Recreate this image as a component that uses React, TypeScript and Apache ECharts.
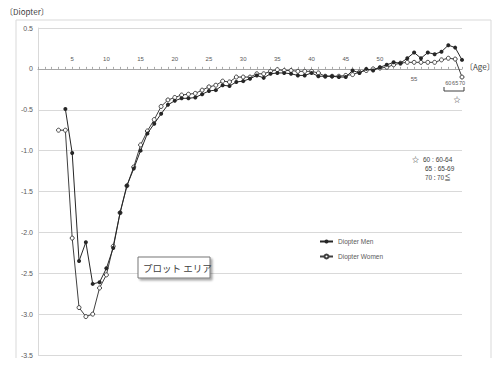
import React, { useEffect, useRef } from 'react';
import * as echarts from 'echarts';

const ages = [
  '0', '1', '2', '3', '4', '5', '6', '7', '8', '9',
  '10', '11', '12', '13', '14', '15', '16', '17', '18', '19',
  '20', '21', '22', '23', '24', '25', '26', '27', '28', '29',
  '30', '31', '32', '33', '34', '35', '36', '37', '38', '39',
  '40', '41', '42', '43', '44', '45', '46', '47', '48', '49',
  '50', '51', '52', '53', '54', '55', '56', '57', '58', '59',
  '60', '65', '70',
];

const menDiopter = [
  null, null, null, null, -0.49, -1.03, -2.35, -2.12, -2.63, -2.61,
  -2.44, -2.19, -1.76, -1.43, -1.22, -1.0, -0.79, -0.67, -0.55, -0.44,
  -0.39, -0.36, -0.36, -0.35, -0.31, -0.27, -0.26, -0.2, -0.21, -0.16,
  -0.15, -0.12, -0.08, -0.11, -0.06, -0.05, -0.05, -0.06, -0.08, -0.08,
  -0.05, -0.09, -0.09, -0.09, -0.1, -0.1, -0.02, -0.05, 0.0, -0.02,
  0.02, 0.05, 0.08, 0.07, 0.13, 0.2, 0.13, 0.2, 0.18, 0.21,
  0.29, 0.26, 0.11,
];

const womenDiopter = [
  null, null, null, -0.75, -0.75, -2.07, -2.92, -3.03, -3.0, -2.68,
  -2.52, -2.17, -1.76, -1.43, -1.2, -0.93, -0.76, -0.62, -0.46, -0.38,
  -0.35, -0.32, -0.31, -0.3, -0.26, -0.22, -0.2, -0.15, -0.16, -0.1,
  -0.1, -0.1, -0.06, -0.06, -0.03, -0.01, -0.02, -0.02, -0.03, -0.03,
  -0.03, -0.05, -0.09, -0.09, -0.09, -0.08, -0.07, -0.04, -0.02, 0.0,
  0.01, 0.02, 0.05, 0.07, 0.08, 0.08, 0.08, 0.08, 0.08, 0.11,
  0.13, 0.12, -0.1,
];

const yMin = -3.5;
const yMax = 0.5;
const yStep = 0.5;
const topAgeLabels = ['5', '10', '15', '20', '25', '30', '35', '40', '45', '50'];
const bottomAgeLabels = ['55', '60', '65', '70'];
const legendNames = ['Diopter Men', 'Diopter Women'];
const noteLines = ['60 : 60-64', '65 : 65-69', '70 : 70≦'];

const W = 500;
const H = 369;
const GRID_TOP = 28;
const GRID_BOTTOM = 14;

export default function App() {
  const ref = useRef<HTMLDivElement>(null);

  useEffect(() => {
    const chart = echarts.init(ref.current as HTMLDivElement, null, { renderer: 'svg' });
    const font = '"Liberation Sans", Arial, sans-serif';
    const cjk = '"Noto Sans CJK JP", "Noto Sans", sans-serif';
    const labelColor = '#595959';
    const gridH = H - GRID_TOP - GRID_BOTTOM;
    // move the x axis from the bottom edge up to the zero line of the value axis
    const zeroOffset = -gridH * (0 - yMin) / (yMax - yMin);

    const option: any = {
      animation: false,
      backgroundColor: '#ffffff',
      grid: { left: 38, right: 38, top: GRID_TOP, bottom: GRID_BOTTOM, containLabel: false, outerBoundsMode: 'none' },
      legend: {
        orient: 'vertical',
        left: 314,
        top: 233,
        itemWidth: 13,
        itemHeight: 5,
        itemGap: 8,
        data: legendNames,
        textStyle: { fontSize: 6.5, color: labelColor, fontFamily: font },
      },
      xAxis: [
        {
          type: 'category',
          data: ages,
          boundaryGap: false,
          position: 'bottom',
          offset: zeroOffset,
          axisLine: { onZero: false, lineStyle: { color: '#a6a6a6', width: 1 } },
          axisTick: { show: true, interval: 0, inside: true, length: 2, lineStyle: { color: '#a6a6a6' } },
          axisLabel: {
            inside: true,
            interval: (_i: number, v: string) => topAgeLabels.includes(v),
            margin: 6.5,
            fontSize: 6,
            color: labelColor,
            fontFamily: font,
          },
          splitLine: { show: false },
        },
        {
          type: 'category',
          data: ages,
          boundaryGap: false,
          position: 'bottom',
          offset: zeroOffset,
          axisLine: { show: false, onZero: false },
          axisTick: { show: false },
          axisLabel: {
            interval: (_i: number, v: string) => bottomAgeLabels.includes(v),
            margin: 6,
            formatter: (v: string) => (v === '55' ? `{a|${v}}` : `{b|${v}}`),
            rich: {
              a: { fontSize: 6, lineHeight: 8, color: labelColor, fontFamily: font },
              b: { fontSize: 5.5, lineHeight: 17, color: labelColor, fontFamily: font },
            },
          },
          splitLine: { show: false },
        },
      ],
      yAxis: {
        type: 'value',
        min: yMin,
        max: yMax,
        interval: yStep,
        axisLine: { show: true, onZero: false, lineStyle: { color: '#d9d9d9' } },
        axisTick: { show: false },
        axisLabel: {
          formatter: (v: number) => (v === 0 ? '0' : v.toFixed(1)),
          fontSize: 7,
          color: labelColor,
          fontFamily: font,
          margin: 5,
        },
        splitLine: { lineStyle: { color: '#d9d9d9', width: 1 } },
      },
      series: [
        {
          name: legendNames[0],
          type: 'line',
          data: menDiopter,
          symbol: 'circle',
          symbolSize: 4,
          showAllSymbol: true,
          lineStyle: { color: '#262626', width: 1 },
          itemStyle: { color: '#262626' },
          z: 3,
        },
        {
          name: legendNames[1],
          type: 'line',
          data: womenDiopter,
          symbol: 'circle',
          symbolSize: 4,
          showAllSymbol: true,
          lineStyle: { color: '#404040', width: 1 },
          itemStyle: { color: '#ffffff', borderColor: '#404040', borderWidth: 1 },
          z: 2,
        },
      ],
      graphic: [
        {
          type: 'polyline',
          silent: true,
          z: -10,
          shape: { points: [[16, 358], [16, 20], [491, 20], [491, 358]] },
          style: { stroke: '#d9d9d9', fill: 'none', lineWidth: 1 },
        },
        {
          type: 'text',
          x: 5,
          y: 11,
          style: { text: '〔Diopter〕', fontSize: 8, fontFamily: cjk, fill: '#404040', align: 'left', verticalAlign: 'middle' },
        },
        {
          type: 'text',
          x: 465,
          y: 66,
          style: { text: '〔Age〕', fontSize: 8, fontFamily: cjk, fill: '#404040', align: 'left', verticalAlign: 'middle' },
        },
        {
          type: 'text',
          x: 412,
          y: 159,
          style: { text: '☆', fontSize: 7, fontFamily: cjk, fill: '#333333', align: 'left', verticalAlign: 'middle' },
        },
        {
          type: 'text',
          x: 423,
          y: 159,
          style: { text: noteLines[0], fontSize: 6.5, fontFamily: font, fill: '#404040', align: 'left', verticalAlign: 'middle' },
        },
        {
          type: 'text',
          x: 425,
          y: 168,
          style: { text: noteLines[1], fontSize: 6.5, fontFamily: font, fill: '#404040', align: 'left', verticalAlign: 'middle' },
        },
        {
          type: 'text',
          x: 425,
          y: 177,
          style: { text: noteLines[2], fontSize: 6.5, fontFamily: cjk, fill: '#404040', align: 'left', verticalAlign: 'middle' },
        },
        {
          type: 'polyline',
          silent: true,
          shape: { points: [[444, 87], [444, 91], [464, 91], [464, 87]] },
          style: { stroke: '#404040', fill: 'none', lineWidth: 1 },
        },
        {
          type: 'text',
          x: 457,
          y: 99,
          style: { text: '☆', fontSize: 7, fontFamily: cjk, fill: '#333333', align: 'center', verticalAlign: 'middle' },
        },
        {
          type: 'rect',
          z: 20,
          shape: { x: 138, y: 257, width: 72, height: 21 },
          style: {
            fill: '#ffffff',
            stroke: '#767676',
            lineWidth: 1,
            shadowBlur: 2,
            shadowOffsetX: 2,
            shadowOffsetY: 2,
            shadowColor: 'rgba(0,0,0,0.35)',
          },
        },
        {
          type: 'text',
          z: 21,
          x: 143,
          y: 268,
          style: { text: 'プロット エリア', fontSize: 9.5, fontFamily: cjk, fill: '#404040', align: 'left', verticalAlign: 'middle' },
        },
      ],
    };

    chart.setOption(option);
    return () => chart.dispose();
  }, []);

  return <div ref={ref} style={{ position: 'fixed', left: 0, top: 0, width: W, height: H }} />;
}
